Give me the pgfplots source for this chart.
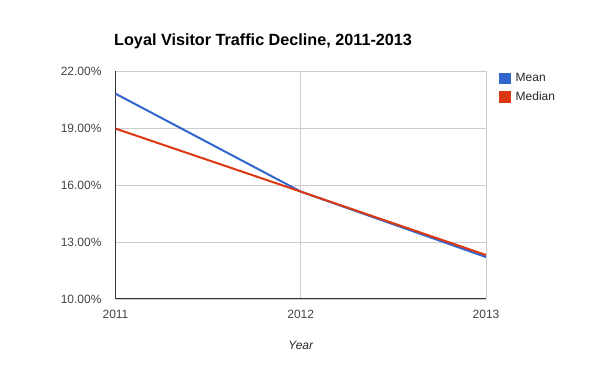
\documentclass[border=0pt]{standalone}
\usepackage{pgfplots}
\pgfplotsset{compat=1.18}
\usepackage{fontspec}
\setmainfont{Liberation Sans}
\definecolor{gblue}{HTML}{3366CC}
\definecolor{gred}{HTML}{DC3912}
\definecolor{ggrid}{HTML}{CCCCCC}
\definecolor{gtext}{HTML}{444444}
\begin{document}
\begin{tikzpicture}
\path[use as bounding box] (0pt,0pt) rectangle (600pt,371pt);
\begin{axis}[
  at={(115.5pt,72pt)}, anchor=south west,
  scale only axis, width=370.5pt, height=227.7pt,
  xmin=2011, xmax=2013, ymin=10, ymax=22,
  xtick={2011,2012,2013}, xticklabels={2011,2012,2013},
  ytick={10,13,16,19,22},
  /pgf/number format/assume math mode=true,
  yticklabel={\pgfmathprintnumber[fixed,fixed zerofill,precision=2]{\tick}\%},
  major tick length=0pt,
  axis x line*=bottom, axis y line*=left,
  axis line style={color=black!80, line width=1pt},
  grid=major,
  major grid style={color=ggrid, line width=0.9pt},
  tick label style={font=\fontsize{12}{14}\selectfont, text=gtext},
  yticklabel style={anchor=east, xshift=-13.8pt, inner sep=0pt},
  xticklabel style={anchor=base, yshift=-19.3pt, inner sep=0pt},
  xlabel={Year},
  xlabel style={at={(axis description cs:0.5,0)}, anchor=base, yshift=-50.3pt, inner sep=0pt, font=\itshape\fontsize{12}{14}\selectfont, text=black!85},
  title={Loyal Visitor Traffic Decline, 2011-2013},
  title style={at={(axis description cs:0,1)}, anchor=base west, yshift=20pt, xshift=-1.5pt, inner sep=0pt, font=\bfseries\fontsize{16.2}{19}\selectfont},
  legend style={at={(axis description cs:1,1)}, anchor=north west, xshift=12.5pt, yshift=0pt,
    draw=none, fill=none, inner sep=0pt, font=\fontsize{12}{14}\selectfont, text=black!85,
    row sep=4.5pt, /tikz/every odd column/.append style={column sep=3pt}},
  legend cell align=left,
  legend image code/.code={\fill[#1,draw=none] (0pt,-5.8pt) rectangle (12pt,5.8pt);},
]
\addplot[color=gblue, line width=2pt] coordinates {(2011,20.82) (2012,15.66) (2013,12.21)};
\addlegendentry{Mean}
\addplot[color=gred, line width=2pt] coordinates {(2011,18.98) (2012,15.66) (2013,12.32)};
\addlegendentry{Median}
\end{axis}
\end{tikzpicture}
\end{document}
